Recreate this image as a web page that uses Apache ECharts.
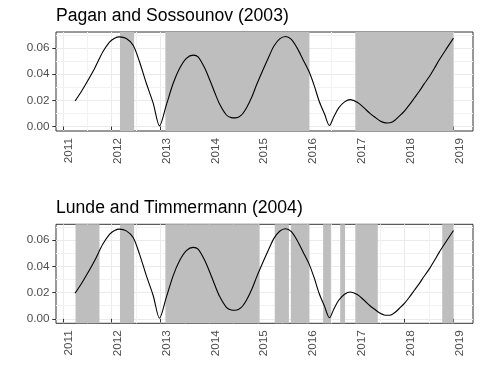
<!DOCTYPE html>
<html>
<head>
<meta charset="utf-8">
<script src="https://cdn.jsdelivr.net/npm/echarts@6/dist/echarts.min.js"></script>
<style>html,body{margin:0;padding:0;background:#fff}#c{width:480px;height:384px}</style>
</head>
<body>
<div id="c"></div>
<script>
// ---- data ----
const titles = ["Pagan and Sossounov (2003)", "Lunde and Timmermann (2004)"];
const years = [2011.25,2011.37,2011.48,2011.65,2011.82,2011.96,2012.06,2012.16,2012.30,2012.44,2012.57,2012.71,2012.85,2012.98,
  2013.12,2013.26,2013.39,2013.53,2013.67,2013.77,2013.90,2014.01,2014.11,2014.21,2014.35,2014.45,2014.54,2014.65,2014.76,2014.87,2014.97,
  2015.12,2015.24,2015.32,2015.44,2015.56,2015.68,2015.80,2015.92,2016.04,2016.15,2016.25,2016.36,2016.46,2016.55,2016.65,2016.77,2016.89,
  2017.03,2017.17,2017.29,2017.41,2017.50,2017.58,2017.65,2017.72,2017.80,2017.89,2018.00,2018.10,2018.20,2018.30,2018.40,2018.51,2018.61,2018.71,2018.85,2019.00];
const values = [0.0195,0.0262,0.0330,0.0443,0.0570,0.0646,0.0674,0.0684,0.0671,0.0620,0.0494,0.0330,0.0178,0.0005,
  0.0165,0.0330,0.0443,0.0520,0.0545,0.0532,0.0450,0.0355,0.0260,0.0172,0.0088,0.0068,0.0066,0.0085,0.0142,0.0225,0.0320,
  0.0450,0.0550,0.0612,0.0668,0.0687,0.0665,0.0598,0.0510,0.0421,0.0310,0.0193,0.0095,0.0008,0.0075,0.0142,0.0188,0.0205,
  0.0185,0.0142,0.0100,0.0066,0.0042,0.0030,0.0027,0.0030,0.0048,0.0079,0.0120,0.0167,0.0218,0.0269,0.0325,0.0383,0.0445,0.0509,0.0590,0.0674];
// shaded phases
const psStart = [2012.17, 2013.10, 2016.99];
const psEnd   = [2012.46, 2016.05, 2019.00];
const ltStart = [2011.26, 2012.17, 2013.10, 2015.34, 2015.67, 2016.33, 2016.68, 2016.99, 2018.77];
const ltEnd   = [2011.75, 2012.46, 2015.03, 2015.63, 2016.05, 2016.49, 2016.78, 2017.45, 2019.00];
// ticks
const xMajor = [2011, 2012, 2013, 2014, 2015, 2016, 2017, 2018, 2019];
const xMinor = [2011.5, 2012.5, 2013.5, 2014.5, 2015.5, 2016.5, 2017.5, 2018.5];
const yMajor = [0, 0.02, 0.04, 0.06];
const yMinor = [0.01, 0.03, 0.05, 0.07];

// ---- chart ----
const FONT = "'Liberation Sans', Arial, sans-serif";
const chart = echarts.init(document.getElementById('c'), null, {renderer: 'canvas'});
const tops = [32, 224.3];
const bands = [[psStart, psEnd], [ltStart, ltEnd]];
const lineData = years.map((x, i) => [x, values[i]]);

const grids = tops.map(t => ({left: 56, right: 7, top: t, height: 99, show: true, borderColor: '#333333', borderWidth: 1, backgroundColor: '#fff', containLabel: false}));
const xAxes = tops.map((t, i) => ({
  type: 'value', gridIndex: i, min: 2010.86, max: 2019.4,
  axisLine: {show: false},
  axisTick: {show: true, customValues: xMajor, length: 3.7, lineStyle: {color: '#333333', width: 1}},
  axisLabel: {customValues: xMajor, rotate: 90, align: 'right', verticalAlign: 'top', margin: 7, color: '#4D4D4D', fontSize: 11.7, fontFamily: FONT, formatter: v => String(Math.round(v))},
  splitLine: {show: true, lineStyle: {color: '#EBEBEB', width: 1}}
}));
const yAxes = tops.map((t, i) => ({
  type: 'value', gridIndex: i, min: -0.0034, max: 0.0721,
  axisLine: {show: false},
  axisTick: {show: true, customValues: yMajor, length: 3.7, lineStyle: {color: '#333333', width: 1}},
  axisLabel: {customValues: yMajor, margin: 6.5, color: '#4D4D4D', fontSize: 11.7, fontFamily: FONT, formatter: v => v.toFixed(2)},
  splitLine: {show: true, lineStyle: {color: '#EBEBEB', width: 1}}
}));
const series = [];
tops.forEach((t, i) => {
  series.push({
    type: 'line', xAxisIndex: i, yAxisIndex: i, data: [], z: 1, silent: true,
    markLine: {
      z: 1, silent: true, symbol: ['none', 'none'], label: {show: false}, animation: false,
      lineStyle: {color: '#F2F2F2', width: 1, type: 'solid'},
      data: xMinor.map(v => ({xAxis: v})).concat(yMinor.map(v => ({yAxis: v})))
    }
  });
  series.push({
    type: 'line', xAxisIndex: i, yAxisIndex: i, data: lineData, z: 4,
    showSymbol: false, smooth: 0.3,
    lineStyle: {color: '#000000', width: 1.1},
    markArea: {
      z: 2, silent: true, animation: false,
      itemStyle: {color: '#BEBEBE', opacity: 1},
      data: bands[i][0].map((s, k) => [{xAxis: s}, {xAxis: bands[i][1][k]}])
    }
  });
});

chart.setOption({
  animation: false,
  backgroundColor: '#ffffff',
  title: titles.map((txt, i) => ({text: txt, left: 56, top: 7 + 192.3 * i, padding: 0,
    textStyle: {fontFamily: FONT, fontSize: 17.6, fontWeight: 'normal', color: '#000000'}})),
  grid: grids, xAxis: xAxes, yAxis: yAxes, series: series
});
</script>
</body>
</html>
